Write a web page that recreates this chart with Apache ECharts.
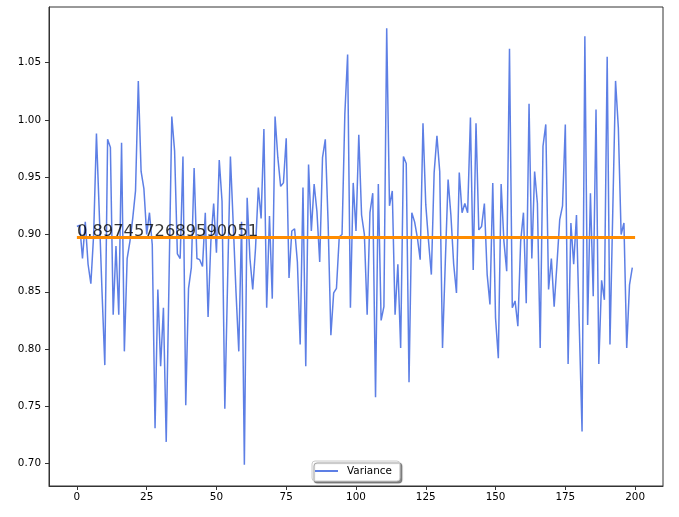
<!DOCTYPE html>
<html>
<head>
<meta charset="utf-8">
<script src="https://cdn.jsdelivr.net/npm/echarts@6/dist/echarts.min.js"></script>
<style>
  html, body { margin: 0; padding: 0; background: #fff; }
  #chart { width: 679px; height: 517px; }
</style>
</head>
<body>
<div id="chart"></div>
<script>
// 方差序列 (0..199)
const varianceValues = [
    0.907, 0.908, 0.879, 0.911, 0.874, 0.857, 0.900, 0.988, 0.920, 0.850,
    0.786, 0.983, 0.976, 0.830, 0.890, 0.830, 0.980, 0.798, 0.879, 0.894,
    0.914, 0.938, 1.034, 0.955, 0.940, 0.900, 0.919, 0.891, 0.731, 0.852,
    0.785, 0.836, 0.719, 0.860, 1.003, 0.973, 0.883, 0.879, 0.968, 0.751,
    0.853, 0.871, 0.958, 0.879, 0.878, 0.872, 0.919, 0.828, 0.894, 0.927,
    0.884, 0.965, 0.929, 0.748, 0.860, 0.968, 0.910, 0.850, 0.798, 0.911,
    0.699, 0.932, 0.879, 0.852, 0.888, 0.941, 0.914, 0.992, 0.836, 0.916,
    0.844, 1.003, 0.967, 0.942, 0.945, 0.984, 0.862, 0.903, 0.905, 0.876,
    0.804, 0.941, 0.785, 0.961, 0.903, 0.944, 0.920, 0.876, 0.967, 0.983,
    0.911, 0.812, 0.849, 0.853, 0.898, 0.900, 1.005, 1.057, 0.836, 0.945,
    0.903, 0.987, 0.917, 0.900, 0.830, 0.919, 0.936, 0.758, 0.944, 0.825,
    0.837, 1.080, 0.925, 0.938, 0.830, 0.874, 0.801, 0.968, 0.962, 0.771,
    0.919, 0.911, 0.897, 0.878, 0.997, 0.926, 0.894, 0.865, 0.954, 0.986,
    0.955, 0.801, 0.876, 0.948, 0.917, 0.874, 0.849, 0.954, 0.919, 0.927,
    0.919, 1.002, 0.869, 0.997, 0.904, 0.907, 0.927, 0.865, 0.839, 0.945,
    0.827, 0.792, 0.944, 0.894, 0.868, 1.062, 0.836, 0.842, 0.820, 0.894,
    0.919, 0.840, 1.014, 0.879, 0.955, 0.927, 0.801, 0.977, 0.996, 0.852,
    0.879, 0.837, 0.874, 0.913, 0.925, 0.996, 0.787, 0.910, 0.874, 0.917,
    0.820, 0.728, 1.073, 0.821, 0.936, 0.846, 1.009, 0.787, 0.860, 0.843,
    1.055, 0.804, 0.920, 1.034, 0.993, 0.900, 0.910, 0.801, 0.856, 0.871
];
// 均值线
const meanValue = 0.8974572689590051;
const meanSpan = [0, 200];
// 刻度
const xTicks = [0, 25, 50, 75, 100, 125, 150, 175, 200];
const yTicks = [0.70, 0.75, 0.80, 0.85, 0.90, 0.95, 1.00, 1.05];
const seriesName = 'Variance';

const FONT = 'DejaVu Sans';
const chart = echarts.init(document.getElementById('chart'));

const option = {
    animation: false,
    backgroundColor: '#fff',
    grid: {
        left: 49, right: 16, top: 7, bottom: 31,
        show: true, borderColor: '#333', borderWidth: 1, backgroundColor: 'transparent'
    },
    legend: {
        data: [{ name: seriesName, icon: 'rect' }],
        left: 312, top: 461,
        padding: [5, 8, 5, 3],
        itemWidth: 23, itemHeight: 2, itemGap: 0,
        backgroundColor: '#fff',
        borderColor: '#ccc', borderWidth: 1, borderRadius: 3,
        shadowColor: 'rgba(0,0,0,0.45)', shadowBlur: 1, shadowOffsetX: 2, shadowOffsetY: 2,
        textStyle: { fontFamily: FONT, fontSize: 10.4, color: '#000', padding: [0, 0, 0, 4] }
    },
    xAxis: {
        type: 'value', min: -10, max: 210,
        splitLine: { show: false },
        axisLine: { show: true, onZero: false, lineStyle: { color: '#333', width: 1 } },
        axisTick: { show: true, length: 4, customValues: xTicks, lineStyle: { color: '#333' } },
        axisLabel: {
            customValues: xTicks, margin: 6,
            fontFamily: FONT, fontSize: 10.4, color: '#000'
        }
    },
    yAxis: {
        type: 'value', min: 0.6805, max: 1.0985,
        splitLine: { show: false },
        axisLine: { show: true, onZero: false, lineStyle: { color: '#333', width: 1 } },
        axisTick: { show: true, length: 4, customValues: yTicks, lineStyle: { color: '#333' } },
        axisLabel: {
            customValues: yTicks, margin: 8,
            fontFamily: FONT, fontSize: 10.4, color: '#000',
            formatter: v => v.toFixed(2)
        }
    },
    series: [
        {
            name: seriesName, type: 'line', symbol: 'none',
            data: varianceValues.map((v, i) => [i, v]),
            lineStyle: { color: '#4169E1', width: 1.5, opacity: 0.85 },
            itemStyle: { color: '#4169E1', opacity: 0.85 },
            z: 2
        },
        {
            name: 'mean', type: 'line', symbol: 'none',
            data: meanSpan.map(x => [x, meanValue]),
            lineStyle: { color: '#FF8C00', width: 3 },
            z: 3
        },
        {
            name: 'meanLabel', type: 'scatter', symbolSize: 0,
            data: [[meanSpan[0], meanValue]],
            label: {
                show: true, position: [0, 3],
                align: 'left', verticalAlign: 'bottom',
                formatter: () => String(meanValue),
                fontFamily: FONT, fontSize: 16.3, lineHeight: 17, color: '#000'
            },
            z: 4
        }
    ]
};
chart.setOption(option);

window.addEventListener('resize', function() {
    chart.resize();
});
</script>
</body>
</html>
